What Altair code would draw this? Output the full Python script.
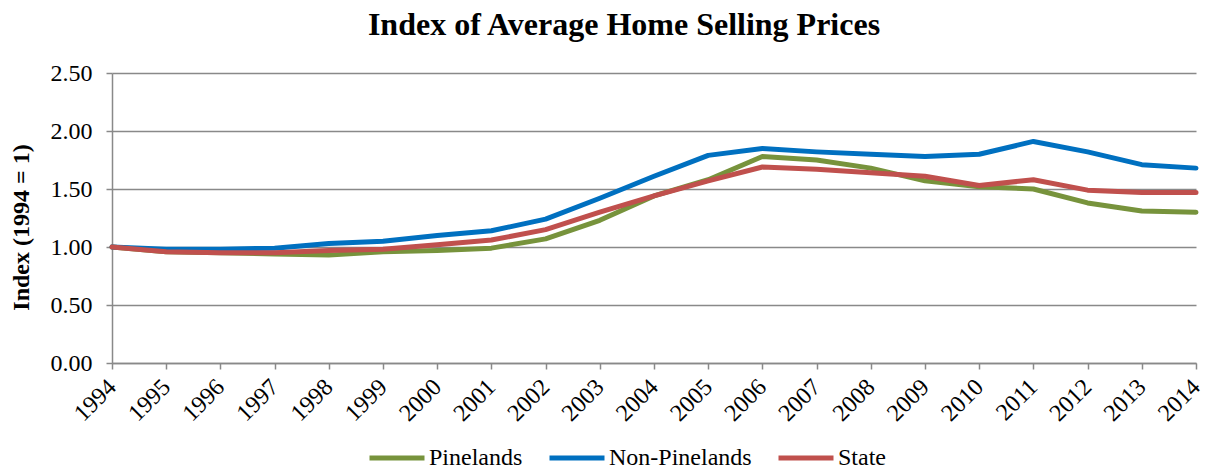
import altair as alt
import pandas as pd

years = list(range(1994, 2015))
series_names = ["Pinelands", "Non-Pinelands", "State"]
pinelands = [1.00, 0.96, 0.95, 0.94, 0.93, 0.96, 0.97, 0.99, 1.07, 1.23, 1.44,
             1.58, 1.78, 1.75, 1.68, 1.57, 1.52, 1.50, 1.38, 1.31, 1.30]
non_pinelands = [1.00, 0.98, 0.98, 0.99, 1.03, 1.05, 1.10, 1.14, 1.24, 1.42, 1.61,
                 1.79, 1.85, 1.82, 1.80, 1.78, 1.80, 1.91, 1.82, 1.71, 1.68]
state = [1.00, 0.96, 0.95, 0.95, 0.97, 0.98, 1.02, 1.06, 1.15, 1.30, 1.44,
         1.57, 1.69, 1.67, 1.64, 1.61, 1.53, 1.58, 1.49, 1.47, 1.47]
colors = ["#77933C", "#0070C0", "#C0504D"]
y_ticks = [0.0, 0.5, 1.0, 1.5, 2.0, 2.5]

rows = []
for name, vals in zip(series_names, [pinelands, non_pinelands, state]):
    for yr, v in zip(years, vals):
        rows.append({"Year": yr, "Series": name, "Index": v})
df = pd.DataFrame(rows)

FONT = "Liberation Serif"

chart = alt.Chart(df).mark_line(strokeWidth=5, strokeCap="round", strokeJoin="round").encode(
    x=alt.X("Year:Q",
            scale=alt.Scale(domain=[1994, 2014], nice=False, zero=False),
            axis=alt.Axis(values=years, format="d", labelAngle=-45, grid=False,
                          labelAlign="right", labelBaseline="middle",
                          title=None, tickSize=6, labelPadding=14,
                          labelFontSize=24, labelFont=FONT, labelColor="black",
                          domainColor="#898989", tickColor="#898989",
                          domainWidth=1.5, tickWidth=1.5)),
    y=alt.Y("Index:Q",
            scale=alt.Scale(domain=[0, 2.5], nice=False),
            axis=alt.Axis(values=y_ticks, format=".2f", grid=True,
                          gridColor="#898989", gridWidth=1.5,
                          title="Index (1994 = 1)", titleFont=FONT, titleFontSize=24,
                          titleFontWeight="bold", titleColor="black",
                          titleX=-91, titleY=154, titleBaseline="middle",
                          tickSize=6, labelPadding=14,
                          labelFontSize=24, labelFont=FONT, labelColor="black",
                          domainColor="#898989", tickColor="#898989",
                          domainWidth=1.5, tickWidth=1.5)),
    color=alt.Color("Series:N",
                    scale=alt.Scale(domain=series_names, range=colors),
                    sort=series_names,
                    legend=alt.Legend(title=None, orient="none", direction="horizontal",
                                      legendX=255, legendY=355,
                                      symbolType="stroke", symbolSize=3025,
                                      symbolStrokeWidth=5, labelOffset=2,
                                      columnPadding=16,
                                      labelFont=FONT, labelFontSize=24,
                                      labelColor="black")),
).properties(
    width=1084,
    height=290,
    title=alt.TitleParams("Index of Average Home Selling Prices", font=FONT,
                          fontSize=32, fontWeight="bold", color="black",
                          anchor="middle", frame="group", offset=19, dx=-30),
    autosize=alt.AutoSizeParams(type="none"),
    padding={"left": 104, "top": 65, "right": 5, "bottom": 106},
).configure_view(stroke=None)

chart.save("out.html", embed_options={"renderer": "svg", "actions": False})
